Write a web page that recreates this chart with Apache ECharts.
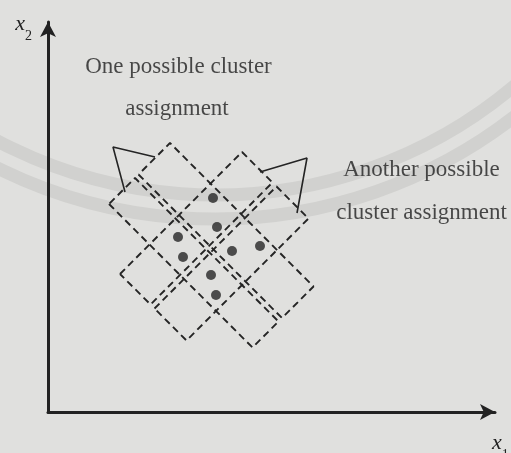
<!DOCTYPE html>
<html>
<head>
<meta charset="utf-8">
<script src="https://cdn.jsdelivr.net/npm/echarts@6/dist/echarts.min.js"></script>
<style>
html,body{margin:0;padding:0;background:#e0e0de;}
#chart{width:511px;height:453px;}
</style>
</head>
<body>
<div id="chart"></div>
<script>
// Eight sample points in the (x1, x2) plane
const samples = [[165,214],[169,185],[130,175],[184,161],[212,166],[135,155],[163,137],[168,117]];

// First partition: two boxes elongated along the falling diagonal
const partitionOne = [
  [[90.5,237.5],[234,94],[265.5,125.5],[122,269]],
  [[61,208],[204.5,64.5],[230.5,90.5],[87,234]]
];
// Second partition: two boxes elongated along the rising diagonal
const partitionTwo = [
  [[72,138],[194,260],[224.5,229.5],[102.5,107.5]],
  [[106.5,103.5],[228.5,225.5],[260.5,193.5],[138.5,71.5]]
];

// Leader lines (tip, elbow, tip) from each caption to its pair of boxes
const leaderOne = [[107,255],[65,265],[77,220]];
const leaderTwo = [[212,240],[259,254],[249,199]];

// Caption text and the points the lines are centred on
const captionLines = ['One possible cluster', 'assignment', 'Another possible', 'cluster assignment'];
const captionAnchors = [[130.5,345],[129,303],[373.5,242.5],[373.5,199]];

const ink = '#242424';
const serif = 'Liberation Serif';

const boxSeries = partitionOne.concat(partitionTwo).map(box => ({
  type: 'line',
  data: box.concat([box[0]]),
  symbol: 'none',
  silent: true,
  z: 3,
  lineStyle: { color: ink, width: 1.9, type: [7, 4.5] }
}));

const leaderSeries = [leaderOne, leaderTwo].map(path => ({
  type: 'line',
  data: path,
  symbol: 'none',
  silent: true,
  z: 3,
  lineStyle: { color: ink, width: 1.6 }
}));

const axisName = {
  v: { fontFamily: serif, fontStyle: 'italic', fontSize: 22, lineHeight: 30, verticalAlign: 'top', color: '#222' },
  s: { fontFamily: serif, fontSize: 14, lineHeight: 15, verticalAlign: 'bottom', color: '#222' }
};

const chart = echarts.init(document.getElementById('chart'), null, { renderer: 'canvas' });
chart.setOption({
  backgroundColor: '#e0e0de',
  animation: false,
  graphic: [
    { type: 'arc', silent: true, z: -1,
      shape: { cx: 215, cy: -270, r: 465, startAngle: 0.45, endAngle: 2.7 },
      style: { stroke: '#d1d1cf', lineWidth: 13, fill: 'none' } },
    { type: 'arc', silent: true, z: -1,
      shape: { cx: 215, cy: -270, r: 489, startAngle: 0.45, endAngle: 2.7 },
      style: { stroke: '#d1d1cf', lineWidth: 13, fill: 'none' } }
  ],
  grid: { left: 48, top: 22, right: 16, bottom: 41, outerBoundsMode: 'none', containLabel: false },
  xAxis: {
    type: 'value', min: 0, max: 447,
    axisLine: { show: true, onZero: false, symbol: ['none', 'arrow'], symbolSize: [12, 15],
      lineStyle: { color: '#222', width: 3 } },
    axisTick: { show: false }, axisLabel: { show: false }, splitLine: { show: false },
    name: '{v|x}{s|1}', nameLocation: 'end', nameGap: -3,
    nameTextStyle: { align: 'left', verticalAlign: 'top', padding: [20, 0, 0, 0], rich: axisName }
  },
  yAxis: {
    type: 'value', min: 0, max: 390,
    axisLine: { show: true, onZero: false, symbol: ['none', 'arrow'], symbolSize: [12, 15],
      lineStyle: { color: '#222', width: 3 } },
    axisTick: { show: false }, axisLabel: { show: false }, splitLine: { show: false },
    name: '{v|x}{s|2}', nameLocation: 'end', nameGap: 9,
    nameTextStyle: { align: 'right', verticalAlign: 'top', padding: [0, 16, 0, 0], rich: axisName }
  },
  series: boxSeries.concat(leaderSeries).concat([
    {
      type: 'scatter',
      data: samples,
      symbolSize: 10,
      silent: true,
      z: 4,
      itemStyle: { color: '#262626' }
    },
    {
      type: 'scatter',
      data: captionAnchors.map((p, i) => ({ value: p, name: captionLines[i] })),
      symbolSize: 0,
      silent: true,
      z: 5,
      label: { show: true, position: 'inside', formatter: '{b}',
        fontFamily: serif, fontSize: 23, color: '#1f1f1f' }
    }
  ])
});
</script>
</body>
</html>
